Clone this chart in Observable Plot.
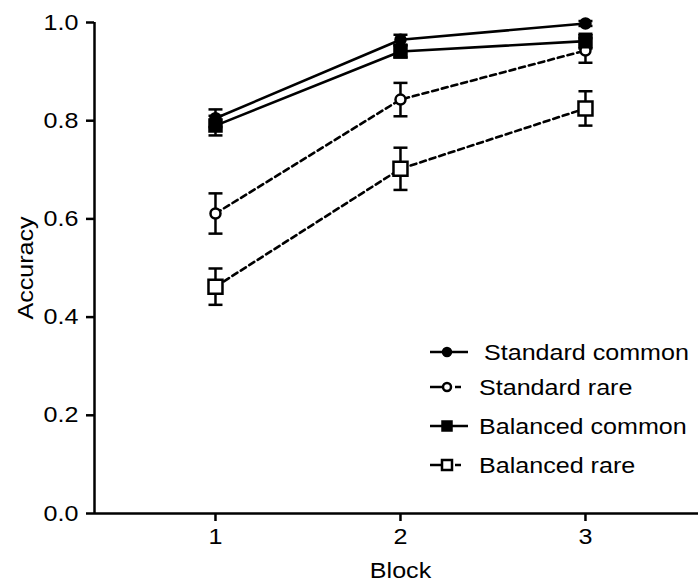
<!DOCTYPE html>
<html>
<head>
<meta charset="utf-8">
<script src="https://cdn.jsdelivr.net/npm/d3@7"></script>
<script src="https://cdn.jsdelivr.net/npm/@observablehq/plot@0.6"></script>
<style>
  html, body { margin: 0; padding: 0; background: #fff; }
  #wrap { position: relative; width: 698px; height: 587px; overflow: hidden; }
  #wrap svg { display: block; }
  #legend { position: absolute; left: 0; top: 0; }
</style>
</head>
<body>
<div id="wrap"></div>
<script>
// ---- data ----
const blocks = [1, 2, 3];
const seriesNames = ["Standard common", "Standard rare", "Balanced common", "Balanced rare"];
const standardCommon = [0.805, 0.965, 0.998];
const standardCommonErr = [0.018, 0.010, 0.005];
const standardRare = [0.611, 0.843, 0.943];
const standardRareErr = [0.041, 0.034, 0.025];
const balancedCommon = [0.790, 0.941, 0.962];
const balancedCommonErr = [0.020, 0.012, 0.015];
const balancedRare = [0.462, 0.702, 0.825];
const balancedRareErr = [0.037, 0.043, 0.035];
const yTicks = [0, 0.2, 0.4, 0.6, 0.8, 1.0];
const xTicks = [1, 2, 3];

// ---- styles per series ----
const r2 = (size) => Math.sqrt(size / Math.PI);
const hbar = { draw(ctx, size) { const r = r2(size); ctx.moveTo(-r, 0); ctx.lineTo(r, 0); } };
const squareSym = { draw(ctx, size) { const r = r2(size); ctx.rect(-r, -r, 2 * r, 2 * r); } };
const circleSym = { draw(ctx, size) { const r = r2(size); ctx.moveTo(r, 0); ctx.arc(0, 0, r, 0, 2 * Math.PI); } };

const seriesDefs = [
  { name: seriesNames[0], vals: standardCommon, errs: standardCommonErr, dash: null, sym: circleSym, r: 5, lr: 4, fill: "black" },
  { name: seriesNames[1], vals: standardRare, errs: standardRareErr, dash: "6,4", sym: circleSym, r: 5, lr: 4, fill: "white" },
  { name: seriesNames[2], vals: balancedCommon, errs: balancedCommonErr, dash: null, sym: squareSym, r: 6, lr: 4.5, fill: "black" },
  { name: seriesNames[3], vals: balancedRare, errs: balancedRareErr, dash: "6,4", sym: squareSym, r: 7, lr: 5, fill: "white" }
];

const rows = [];
seriesDefs.forEach(s => blocks.forEach((b, i) => rows.push({ series: s.name, block: b, y: s.vals[i], e: s.errs[i] })));

const FONT = "'Liberation Sans', Arial, sans-serif";
const xDomain = [0.346, 3.611];
const marks = [];
// axis lines
marks.push(Plot.ruleX([xDomain[0]], { y1: 0, y2: 1, stroke: "black", strokeWidth: 2.5 }));
marks.push(Plot.ruleY([0], { stroke: "black", strokeWidth: 2.5 }));
marks.push(Plot.axisY({ ticks: yTicks, tickFormat: d3.format(".1f"), tickSize: 8, tickPadding: 8, strokeWidth: 2.5, label: null }));
marks.push(Plot.axisX({ ticks: xTicks, tickFormat: d3.format("d"), tickSize: 8, tickPadding: 7, strokeWidth: 2.5, label: null }));
// lines
seriesDefs.forEach(s => {
  marks.push(Plot.line(rows.filter(d => d.series === s.name), {
    x: "block", y: "y", stroke: "black", strokeWidth: 2.6,
    strokeDasharray: s.dash || undefined
  }));
});
// error bars
seriesDefs.forEach(s => {
  const data = rows.filter(d => d.series === s.name);
  marks.push(Plot.ruleX(data, { x: "block", y1: d => d.y - d.e, y2: d => d.y + d.e, stroke: "black", strokeWidth: 2.5 }));
  marks.push(Plot.dot(data, { x: "block", y: d => d.y + d.e, symbol: hbar, r: 7, stroke: "black", strokeWidth: 2.5, fill: "none" }));
  marks.push(Plot.dot(data, { x: "block", y: d => d.y - d.e, symbol: hbar, r: 7, stroke: "black", strokeWidth: 2.5, fill: "none" }));
});
// markers
seriesDefs.forEach(s => {
  const data = rows.filter(d => d.series === s.name);
  marks.push(Plot.dot(data, { x: "block", y: "y", symbol: s.sym, r: s.r, fill: s.fill, stroke: "black", strokeWidth: 2.5 }));
});
// axis titles
marks.push(Plot.text(["Accuracy"], { frameAnchor: "left", textAnchor: "middle", lineAnchor: "middle", rotate: -90, dx: -69, fontSize: 22 }));
marks.push(Plot.text(["Block"], { frameAnchor: "bottom", textAnchor: "middle", lineAnchor: "middle", dx: 4, dy: 57, fontSize: 22 }));

const chart = Plot.plot({
  width: 698,
  height: 587,
  marginLeft: 94,
  marginTop: 22,
  marginBottom: 74,
  marginRight: 0,
  x: { domain: xDomain },
  y: { domain: [0, 1] },
  style: { fontFamily: FONT, fontSize: "22px", color: "black", background: "white", overflow: "visible" },
  marks
});
const wrap = document.getElementById("wrap");
wrap.appendChild(chart);

// ---- legend (inside plot area, lower right) ----
const legendY = [352, 387, 426, 465];
const leg = d3.select(wrap).append("svg").attr("id", "legend").attr("width", 698).attr("height", 587);
seriesDefs.forEach((s, i) => {
  const g = leg.append("g").attr("transform", `translate(0,${legendY[i]})`);
  if (s.dash) {
    g.append("line").attr("x1", 430).attr("x2", 447).attr("y1", 0).attr("y2", 0).attr("stroke", "black").attr("stroke-width", 2.5);
    g.append("line").attr("x1", 455).attr("x2", 461).attr("y1", 0).attr("y2", 0).attr("stroke", "black").attr("stroke-width", 2.5);
  } else {
    g.append("line").attr("x1", 430).attr("x2", 468).attr("y1", 0).attr("y2", 0).attr("stroke", "black").attr("stroke-width", 2.5);
  }
  const size = Math.PI * s.lr * s.lr;
  g.append("path").attr("transform", "translate(447,0)").attr("d", d3.symbol(s.sym, size)()).attr("fill", s.fill).attr("stroke", "black").attr("stroke-width", 2.5);
  g.append("text").attr("x", i === 0 ? 484 : 479).attr("y", 0).attr("dy", "0.35em")
    .attr("font-family", FONT).attr("font-size", 22).text(s.name);
});

// the reference type is horizontally widened; stretch each text run to match
wrap.querySelectorAll("text").forEach(t => {
  const len = t.getComputedTextLength();
  if (len > 0) {
    t.setAttribute("textLength", (len * 1.14).toFixed(1));
    t.setAttribute("lengthAdjust", "spacingAndGlyphs");
  }
});
</script>
</body>
</html>
